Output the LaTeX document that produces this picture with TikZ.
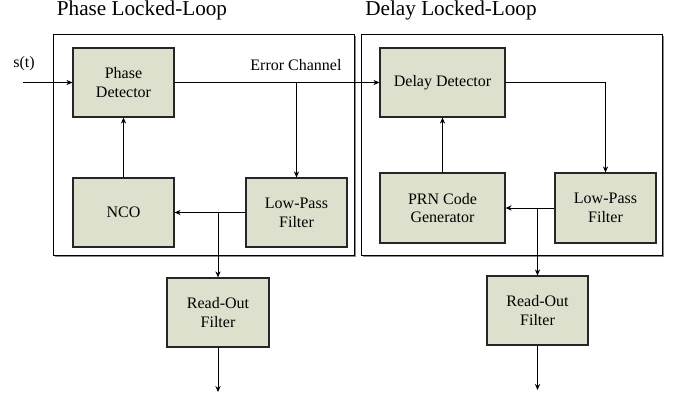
\documentclass[tikz,border=0pt]{standalone}
\usepackage{fontspec}
\setmainfont{Liberation Serif}
\usetikzlibrary{arrows.meta,shadows}

\definecolor{blockfill}{RGB}{221,224,204}

\tikzset{
  block/.style={draw=black!85, line width=0.6pt, fill=blockfill, align=center,
    minimum height=34.5pt, inner sep=1pt, font=\fontsize{8}{9.4}\selectfont,
    drop shadow={shadow xshift=0.4pt, shadow yshift=-0.4pt, fill=black!60, opacity=1}},
  loopbox/.style={draw=black, line width=0.5pt,
    drop shadow={shadow xshift=0.8pt, shadow yshift=-0.8pt, fill=black!45, opacity=1}},
  looptitle/.style={font=\fontsize{10.6}{12}\selectfont},
  sig/.style={-{Stealth[length=3pt,width=2.6pt]}, line width=0.45pt}
}

\begin{document}
\begin{tikzpicture}[x=0.5pt,y=-0.5pt]
  \useasboundingbox (0,0) rectangle (680,397);

  % the two loops
  \filldraw[loopbox, fill=white] (53,34) rectangle (354,255);
  \filldraw[loopbox, fill=white] (361,34) rectangle (662,255);
  \node[looptitle] (plltitle) at (142,10) {Phase Locked-Loop};
  \node[looptitle] (dlltitle) at (451,10) {Delay Locked-Loop};

  % phase locked loop
  \node[block, minimum width=50.5pt] (pd) at (123.5,82.5) {Phase\\Detector};
  \node[block, minimum width=50.5pt] (nco) at (123.5,212.5) {NCO};
  \node[block, minimum width=50.5pt] (lpfa) at (296.5,212.5) {Low-Pass\\Filter};
  \node[block, minimum width=51pt] (roa) at (218,312.5) {Read-Out\\Filter};

  % delay locked loop
  \node[block, minimum width=62.5pt] (dd) at (442.5,82.5) {Delay Detector};
  \node[block, minimum width=62.5pt, minimum height=35pt] (prn) at (442.5,208) {PRN Code\\Generator};
  \node[block, minimum width=50.5pt, minimum height=35pt] (lpfb) at (605.5,208) {Low-Pass\\Filter};
  \node[block, minimum width=50.5pt] (rob) at (537.5,310.5) {Read-Out\\Filter};

  % signal lines
  \coordinate (in) at (23,82.5);
  \coordinate (erra) at (296.5,82.5);
  \coordinate (bra) at (218,212.5);
  \coordinate (brb) at (537.5,208);
  \coordinate (outa) at (218,392);
  \coordinate (outb) at (537.5,390);
  \node[font=\fontsize{8}{9}\selectfont] (st) at (24,64) {s(t)};
  \node[font=\fontsize{8}{9}\selectfont] (errlabel) at (296,65) {Error Channel};

  \draw[sig] (in) -- (pd);
  \draw[sig] (pd) -- (dd);
  \draw[sig] (erra) -- (lpfa);
  \draw[sig] (lpfa) -- (nco);
  \draw[sig] (nco) -- (pd);
  \draw[sig] (bra) -- (roa);
  \draw[sig] (roa) -- (outa);

  \draw[sig] (dd.east) -| (lpfb.north);
  \draw[sig] (lpfb) -- (prn);
  \draw[sig] (prn) -- (dd);
  \draw[sig] (brb) -- (rob);
  \draw[sig] (rob) -- (outb);
\end{tikzpicture}
\end{document}
